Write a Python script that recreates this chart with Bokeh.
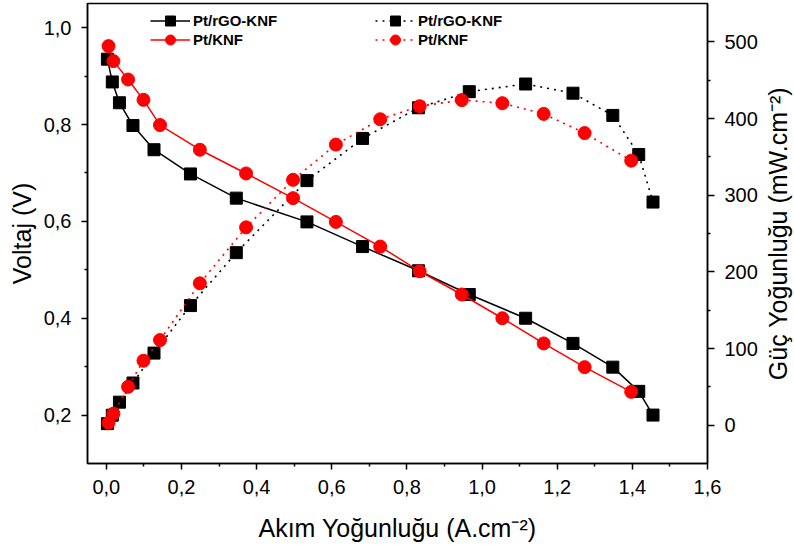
from bokeh.plotting import figure
from bokeh.models import (Range1d, LinearAxis, FixedTicker, CustomJSTickFormatter,
                          Legend, LegendItem, Label)
from bokeh.embed import file_html
from bokeh.resources import INLINE

# ---------------- data ----------------
rgo_current = [0.003, 0.016, 0.035, 0.071, 0.127, 0.224, 0.346, 0.534,
               0.682, 0.831, 0.966, 1.116, 1.242, 1.348, 1.417, 1.455]
rgo_voltage = [0.935, 0.888, 0.845, 0.798, 0.748, 0.698, 0.648, 0.599,
               0.548, 0.498, 0.449, 0.400, 0.348, 0.299, 0.249, 0.200]
rgo_power = [2, 13, 30, 55, 94, 156, 225, 319,
             374, 414, 435, 445, 433, 404, 353, 291]

knf_current = [0.006, 0.019, 0.058, 0.099, 0.143, 0.249, 0.372, 0.497,
               0.611, 0.729, 0.834, 0.946, 1.054, 1.164, 1.273, 1.397]
knf_voltage = [0.962, 0.931, 0.893, 0.851, 0.799, 0.748, 0.699, 0.648,
               0.599, 0.548, 0.497, 0.449, 0.400, 0.348, 0.299, 0.248]
knf_power = [3, 15, 50, 84, 111, 185, 258, 320,
             366, 399, 416, 424, 420, 406, 381, 345]

series_labels = ["Pt/rGO-KNF", "Pt/KNF"]

x_ticks = [0.0, 0.2, 0.4, 0.6, 0.8, 1.0, 1.2, 1.4, 1.6]
x_tick_labels = ["0,0", "0,2", "0,4", "0,6", "0,8", "1,0", "1,2", "1,4", "1,6"]
x_minor = [0.1, 0.3, 0.5, 0.7, 0.9, 1.1, 1.3, 1.5]

v_ticks = [0.2, 0.4, 0.6, 0.8, 1.0]
v_tick_labels = ["0,2", "0,4", "0,6", "0,8", "1,0"]
v_minor = [0.3, 0.5, 0.7, 0.9]

p_ticks = [0, 100, 200, 300, 400, 500]
p_tick_labels = ["0", "100", "200", "300", "400", "500"]
p_minor = [50, 150, 250, 350, 450]

x_label = "Akım Yoğunluğu (A.cm⁻²)"
v_label = "Voltaj (V)"
p_label = "Güç Yoğunluğu (mW.cm⁻²)"

FONT = "Liberation Sans"
BLACK = "#000000"
RED = "#ff0000"

# ---------------- figure ----------------
p = figure(width=794, height=550,
           x_range=Range1d(-0.05, 1.6), y_range=Range1d(0.1, 1.05),
           output_backend="svg", toolbar_location=None,
           min_border_left=87, min_border_right=87,
           min_border_top=3, min_border_bottom=87)
p.extra_y_ranges = {"power": Range1d(-50, 550)}
p.xgrid.visible = False
p.ygrid.visible = False
p.outline_line_color = BLACK
p.outline_line_width = 1.5
p.outline_line_alpha = 1.0
p.background_fill_color = "white"
p.border_fill_color = "white"


def formatter(values, labels):
    return CustomJSTickFormatter(args=dict(tvals=values, tlabs=labels), code="""
        for (let i = 0; i < tvals.length; i++) {
            if (Math.abs(tvals[i] - tick) < 1e-9) { return tlabs[i]; }
        }
        return "";
    """)


def style_axis(ax, ticks, labels, minor):
    ax.ticker = FixedTicker(ticks=ticks, minor_ticks=minor)
    ax.formatter = formatter(ticks, labels)
    ax.axis_line_color = BLACK
    ax.axis_line_width = 1.5
    ax.major_tick_line_color = BLACK
    ax.major_tick_line_width = 1.5
    ax.minor_tick_line_color = BLACK
    ax.minor_tick_line_width = 1.5
    ax.major_tick_in = 0
    ax.major_tick_out = 6
    ax.minor_tick_in = 0
    ax.minor_tick_out = 3
    ax.major_label_text_font = FONT
    ax.major_label_text_font_size = "20px"
    ax.major_label_text_color = BLACK
    ax.major_label_standoff = 10
    ax.axis_label_text_font = FONT
    ax.axis_label_text_font_size = "25px"
    ax.axis_label_text_font_style = "normal"
    ax.axis_label_text_color = BLACK


xax = p.below[0]
style_axis(xax, x_ticks, x_tick_labels, x_minor)
xax.axis_label = x_label
xax.major_label_standoff = 10
xax.axis_label_standoff = 17

yax = p.left[0]
style_axis(yax, v_ticks, v_tick_labels, v_minor)
yax.axis_label = v_label
yax.axis_label_standoff = 5

rax = LinearAxis(y_range_name="power")
style_axis(rax, p_ticks, p_tick_labels, p_minor)
rax.major_tick_out = 7
rax.major_label_standoff = 10
p.add_layout(rax, "right")

# right-hand title reading bottom-to-top, placed in its own side panel
p.add_layout(Label(x=17, y=230, x_units="screen", y_units="screen",
                   text=p_label, angle=90, angle_units="deg",
                   text_align="center", text_baseline="middle",
                   text_font=FONT, text_font_size="25px", text_color=BLACK),
             "right")

# ---------------- glyphs ----------------
l1 = p.line(rgo_current, rgo_voltage, line_color=BLACK, line_width=1.5)
s1 = p.scatter(rgo_current, rgo_voltage, marker="square", size=12,
               fill_color=BLACK, line_color=BLACK)
l3 = p.line(rgo_current, rgo_power, y_range_name="power", line_color=BLACK,
            line_width=1.6, line_dash="2 5")
s3 = p.scatter(rgo_current, rgo_power, y_range_name="power", marker="square",
               size=12, fill_color=BLACK, line_color=BLACK)

l2 = p.line(knf_current, knf_voltage, line_color=RED, line_width=1.5)
s2 = p.scatter(knf_current, knf_voltage, marker="circle", size=13,
               fill_color=RED, line_color=RED)
l4 = p.line(knf_current, knf_power, y_range_name="power", line_color=RED,
            line_width=1.6, line_dash="2 5")
s4 = p.scatter(knf_current, knf_power, y_range_name="power", marker="circle",
               size=13, fill_color=RED, line_color=RED)


# ---------------- legends (one per entry for exact placement) ----------------
def make_legend(label, renderers, loc):
    lg = Legend(items=[LegendItem(label=label, renderers=renderers)],
                location=loc, orientation="vertical",
                glyph_width=40, glyph_height=25, label_standoff=3,
                label_height=25, padding=0, margin=0, spacing=0,
                border_line_alpha=0, background_fill_alpha=0,
                label_text_font=FONT, label_text_font_size="15px",
                label_text_font_style="bold", label_text_color=BLACK,
                label_text_baseline="middle")
    p.add_layout(lg, "center")


make_legend(series_labels[0], [l1, s1], (63, 430))
make_legend(series_labels[1], [l2, s2], (63, 411))
make_legend(series_labels[0], [l3, s3], (288, 430))
make_legend(series_labels[1], [l4, s4], (288, 411))

open("out.html", "w").write(file_html(p, INLINE))
